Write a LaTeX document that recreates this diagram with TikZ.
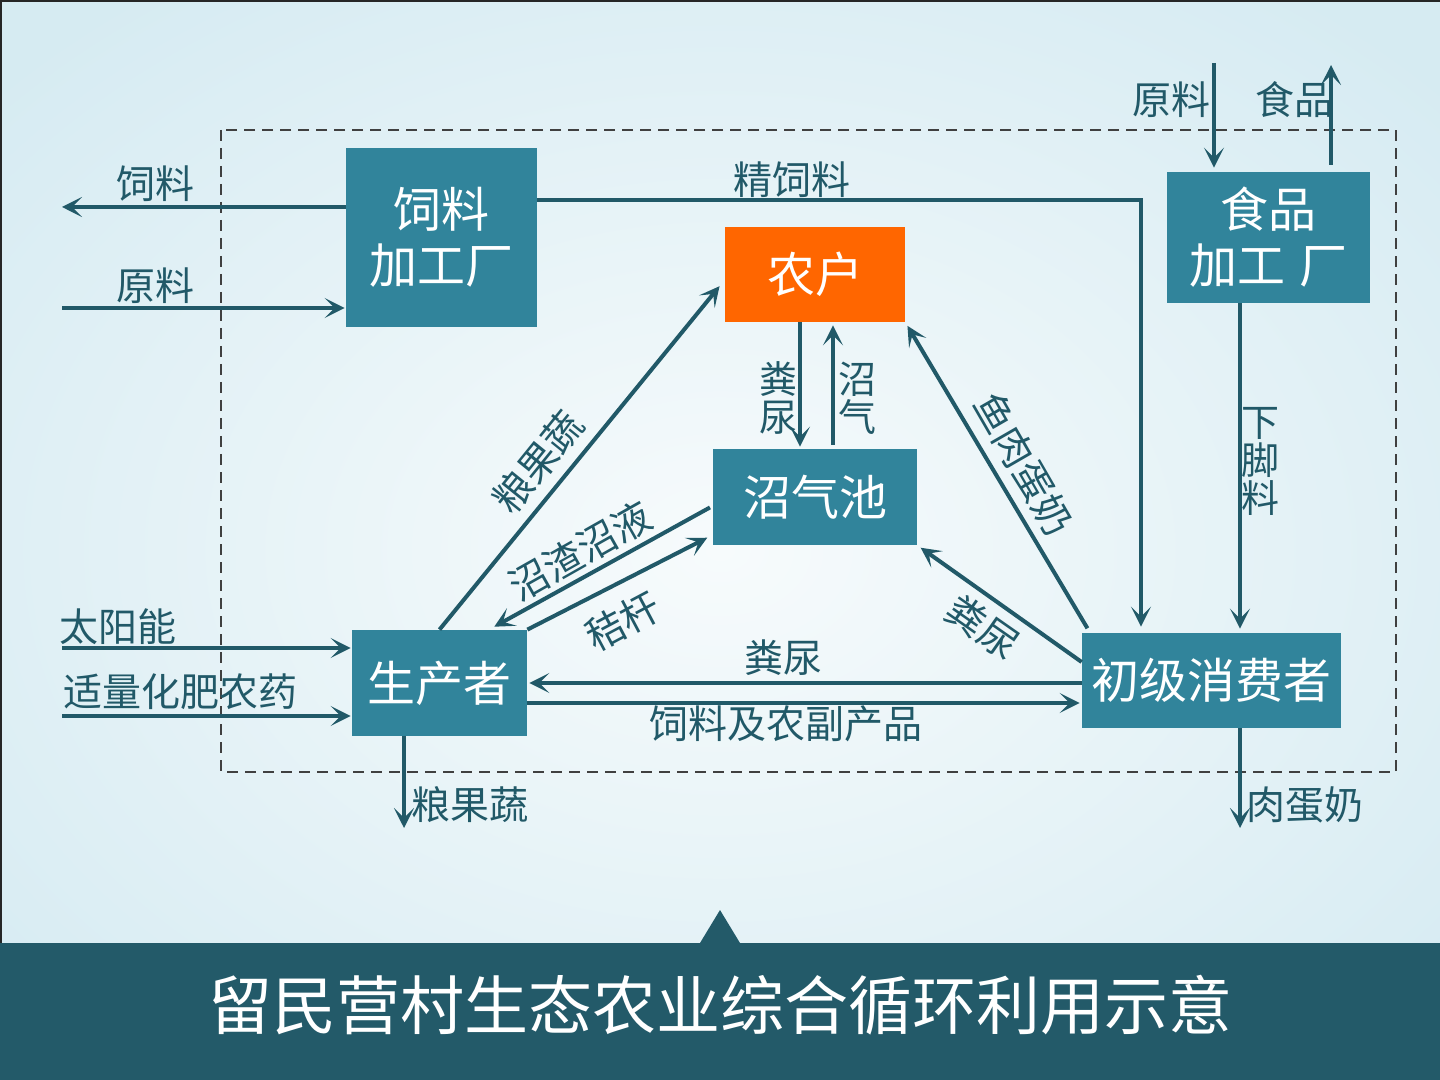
\documentclass[tikz,border=0pt]{standalone}
\usepackage{fontspec}
\newfontfamily\cjk{Noto Sans CJK SC}
\usetikzlibrary{arrows.meta,calc}
\definecolor{boxc}{HTML}{31849B}
\definecolor{arrc}{HTML}{215968}
\definecolor{orng}{HTML}{FF6600}
\definecolor{bgin}{HTML}{F7FBFC}
\definecolor{bgout}{HTML}{D6EBF2}
\definecolor{bannerc}{HTML}{235A69}
\definecolor{dashc}{HTML}{404040}
\begin{document}
\begin{tikzpicture}[x=0.5pt,y=-0.5pt,
  box/.style={fill=boxc,text=white,inner sep=0pt,align=center,font=\cjk\fontsize{24}{28}\selectfont},
  arr/.style={draw=arrc,line width=2pt,-{Stealth[length=10pt,width=10pt,inset=5pt]}},
  lbl/.style={text=arrc,inner sep=0pt,font=\cjk\fontsize{19.5}{19.5}\selectfont},
  vlbl/.style={text=arrc,inner sep=0pt,align=center,font=\cjk\fontsize{19}{19}\selectfont}]
\useasboundingbox (0,0) rectangle (1440,1080);
% background
\begin{scope}
\clip (0,0) rectangle (1440,1080);
\fill[bgout] (0,0) rectangle (1440,1080);
\shade[inner color=bgin,outer color=bgout] (-250,-150) rectangle (1690,1250);
\end{scope}
\draw[line width=1.5pt,black!85] (0.5,1080) -- (0.5,0.5) -- (1440,0.5);
% banner
\fill[bannerc] (0,943) -- (700,943) -- (720,910) -- (740,943) -- (1440,943) -- (1440,1080) -- (0,1080) -- cycle;
\node[text=white,inner sep=0pt,font=\cjk\fontsize{32}{32}\selectfont] (title) at (720,1005) {留民营村生态农业综合循环利用示意};
% dashed boundary
\draw[dashc,line width=1pt,dash pattern=on 5.5pt off 3.5pt] (221,130) rectangle (1396,772);
% boxes
\node[box,minimum width=95.5pt,minimum height=89.5pt] (feed) at (441.5,237.5) {饲料\\加工厂};
\node[box,fill=orng,minimum width=90pt,minimum height=47.5pt] (farmer) at (815,274.5) {农户};
\node[box,minimum width=102pt,minimum height=48pt] (biogas) at (815,497) {沼气池};
\node[box,minimum width=101.5pt,minimum height=65.5pt] (food) at (1268.5,237.5) {食品\\加工\hspace{0.3em}厂};
\node[box,minimum width=87.5pt,minimum height=53pt] (producer) at (439.5,683) {生产者};
\node[box,minimum width=129.5pt,minimum height=47.5pt] (consumer) at (1211.5,680.5) {初级消费者};
% free ends
\coordinate (feedOut) at (62,207);
\coordinate (rawIn) at (62,308);
\coordinate (foodIn) at (1214,63);
\coordinate (foodOut) at (1331,65);
\coordinate (sunIn) at (62,648);
\coordinate (fertIn) at (62,716);
\coordinate (grainOut) at (404,828);
\coordinate (meatOut) at (1240,828);
% connectors
\draw[arr] (feed.west |- feedOut) -- (feedOut);
\draw[arr,shorten >=0.5pt] (rawIn) -- (feed.west |- rawIn);
\draw[arr,shorten >=3pt] (feed.east |- 0,200) -| (consumer.north -| 1141,0);
\draw[arr,shorten >=2pt] (foodIn) -- (food.north -| foodIn);
\draw[arr,shorten <=3.5pt] (food.north -| foodOut) -- (foodOut);
\draw[arr,shorten >=2pt] (food.south -| 1240,0) -- (consumer.north -| 1240,0);
\draw[arr,shorten >=1pt] (farmer.south -| 800,0) -- (biogas.north -| 800,0);
\draw[arr,shorten <=2pt,shorten >=1.5pt] (biogas.north -| 833,0) -- (farmer.south -| 833,0);
\draw[arr,shorten >=4pt] (producer.north) -- (farmer.west |- 0,280);
\draw[arr,shorten <=1.5pt,shorten >=3pt] (biogas.west |- 0,506) -- (producer.north -| 489,0);
\draw[arr,shorten >=3pt] (producer.north east) -- (biogas.west |- 0,535);
\draw[arr,shorten <=2.5pt,shorten >=2pt] (consumer.north -| 1090,0) -- (farmer.south east);
\draw[arr,shorten >=2pt] (consumer.west |- 0,662) -- (biogas.south east);
\draw[arr,shorten >=1pt] (consumer.west |- 0,683) -- (producer.east |- 0,683);
\draw[arr,shorten >=1pt] (producer.east |- 0,703) -- (consumer.west |- 0,703);
\draw[arr,shorten >=0.5pt] (sunIn) -- (producer.west |- sunIn);
\draw[arr,shorten >=0.5pt] (fertIn) -- (producer.west |- fertIn);
\draw[arr] (producer.south -| grainOut) -- (grainOut);
\draw[arr] (consumer.south -| meatOut) -- (meatOut);
% labels
\node[lbl] (lFeedOut) at (155,184) {饲料};
\node[lbl] (lRawIn) at (155,286) {原料};
\node[lbl] (lConc) at (792,180) {精饲料};
\node[lbl] (lFoodIn) at (1171,100) {原料};
\node[lbl] (lFoodOut) at (1294,100) {食品};
\node[vlbl] (lScraps) at (1260,461) {下\\脚\\料};
\node[vlbl] (lManure1) at (778,398) {粪\\尿};
\node[vlbl] (lGas) at (857,398) {沼\\气};
\node[lbl,rotate=51] (lGrain1) at (538,462) {粮果蔬};
\node[lbl,rotate=29.5] (lSlurry) at (580,551) {沼渣沼液};
\node[lbl,rotate=28] (lStraw) at (623,621) {秸杆};
\node[lbl,rotate=-60] (lMeat1) at (1024,464) {鱼肉蛋奶};
\node[lbl,rotate=-35] (lManure2) at (983,627) {粪尿};
\node[lbl] (lManure3) at (783,658) {粪尿};
\node[lbl] (lFodder) at (786,724) {饲料及农副产品};
\node[lbl] (lSun) at (118,627) {太阳能};
\node[lbl] (lFert) at (180,692) {适量化肥农药};
\node[lbl] (lGrain2) at (470,805) {粮果蔬};
\node[lbl] (lMeat2) at (1305,805) {肉蛋奶};
\end{tikzpicture}
\end{document}
